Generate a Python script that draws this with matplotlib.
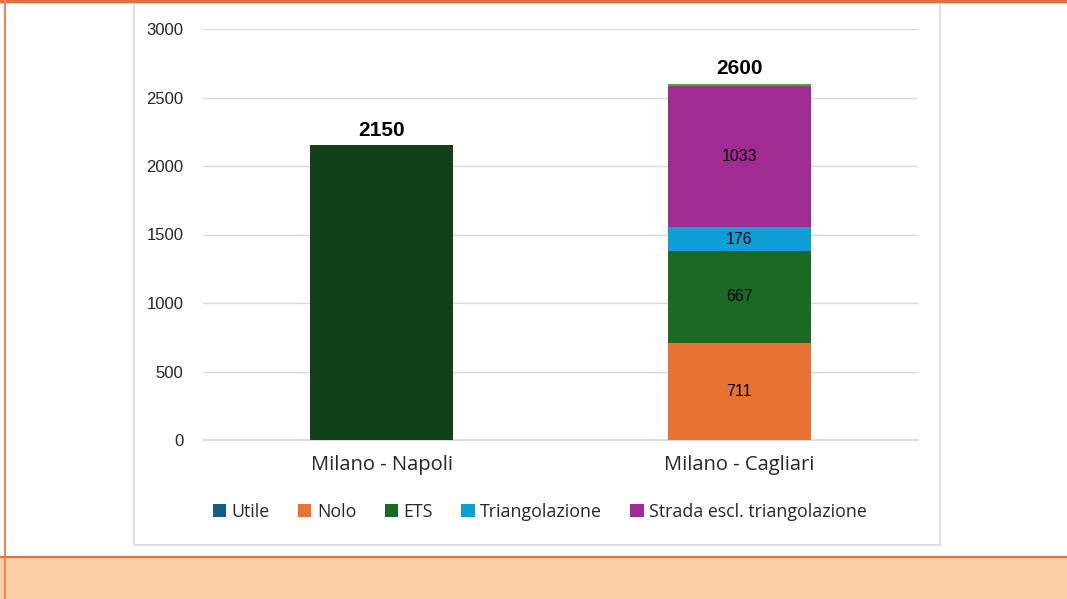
import matplotlib.pyplot as plt
from matplotlib.patches import Rectangle

# data
categories = ['Milano - Napoli', 'Milano - Cagliari']
totals = [2150, 2600]
napoli_total = [2150, 0]
series_names = ['Utile', 'Nolo', 'ETS', 'Triangolazione', 'Strada escl. triangolazione']
series_values = {
    'Utile': [0, 0],
    'Nolo': [0, 711],
    'ETS': [0, 667],
    'Triangolazione': [0, 176],
    'Strada escl. triangolazione': [0, 1033],
}
extra_top = [0, 13]
y_ticks = [0, 500, 1000, 1500, 2000, 2500, 3000]

colors = {
    'Utile': '#156082',
    'Nolo': '#E97132',
    'ETS': '#196B24',
    'Triangolazione': '#0F9ED5',
    'Strada escl. triangolazione': '#A02B93',
}

plt.rcParams['font.family'] = ['Liberation Sans', 'DejaVu Sans']
side_font = ['Open Sans', 'DejaVu Sans']

W, H = 1067, 599
fig = plt.figure(figsize=(W / 100, H / 100), dpi=100)

# frame decorations
fig.patches.append(Rectangle((0, 0), 1, 42 / H, transform=fig.transFigure,
                             facecolor='#FBCFA3', edgecolor='none', zorder=0))
fig.add_artist(plt.Line2D([0, 1], [42 / H, 42 / H], transform=fig.transFigure,
                          color='#EE6B35', lw=1.5))
fig.add_artist(plt.Line2D([0, 1], [1 - 1 / H, 1 - 1 / H], transform=fig.transFigure,
                          color='#EE6B35', lw=2.5))
fig.add_artist(plt.Line2D([4.5 / W, 4.5 / W], [0, 1], transform=fig.transFigure,
                          color='#F4845A', lw=1.5))
fig.patches.append(Rectangle((134 / W, 1 - 545 / H), (940 - 134) / W, (545 + 40) / H,
                             transform=fig.transFigure, facecolor='white',
                             edgecolor='#D9D9D9', lw=1.2, zorder=1))

ax = fig.add_axes([203 / W, 1 - 440 / H, (918 - 203) / W, (440 - 29) / H])
ax.set_facecolor('none')
ax.set_zorder(2)

x = range(len(categories))
width = 0.4

ax.bar(x, napoli_total, width, color='#124019', zorder=3)
bottom = [0, 0]
for name in series_names:
    vals = series_values[name]
    ax.bar(x, vals, width, bottom=bottom, color=colors[name], label=name, zorder=3)
    for i, v in enumerate(vals):
        if v > 0:
            ax.text(i, bottom[i] + v / 2, str(v), ha='center', va='center',
                    fontsize=11.5, color='black', zorder=4)
    bottom = [b + v for b, v in zip(bottom, vals)]
ax.bar(x, extra_top, width, bottom=bottom, color='#4EA72E', zorder=3)

for i, t in enumerate(totals):
    ax.text(i, t + 40, str(t), ha='center', va='bottom', fontsize=15,
            fontweight='bold', color='black', zorder=4)

ax.set_xlim(-0.5, 1.5)
ax.set_ylim(0, 3000)
ax.set_yticks(y_ticks)
ax.set_xticks(list(x))
ax.set_xticklabels(categories, fontsize=14.5, color='#262626', family=side_font)
ax.tick_params(axis='y', length=0, labelsize=12, pad=14, colors='#262626')
ax.tick_params(axis='x', length=0, pad=11)
ax.grid(axis='y', color='#D9D9D9', lw=1, zorder=0)
ax.axhline(0, color='#D9D9D9', lw=1.2, zorder=2, clip_on=False)
for s in ax.spines.values():
    s.set_visible(False)

leg = ax.legend(loc='center', bbox_to_anchor=(0.471, -0.175), ncol=5, frameon=False,
                prop={'family': side_font, 'size': 12.8},
                handlelength=0.75, handleheight=0.75, handletextpad=0.3,
                columnspacing=1.6)
for t in leg.get_texts():
    t.set_color('#262626')

fig.savefig('out.png', dpi=100)
